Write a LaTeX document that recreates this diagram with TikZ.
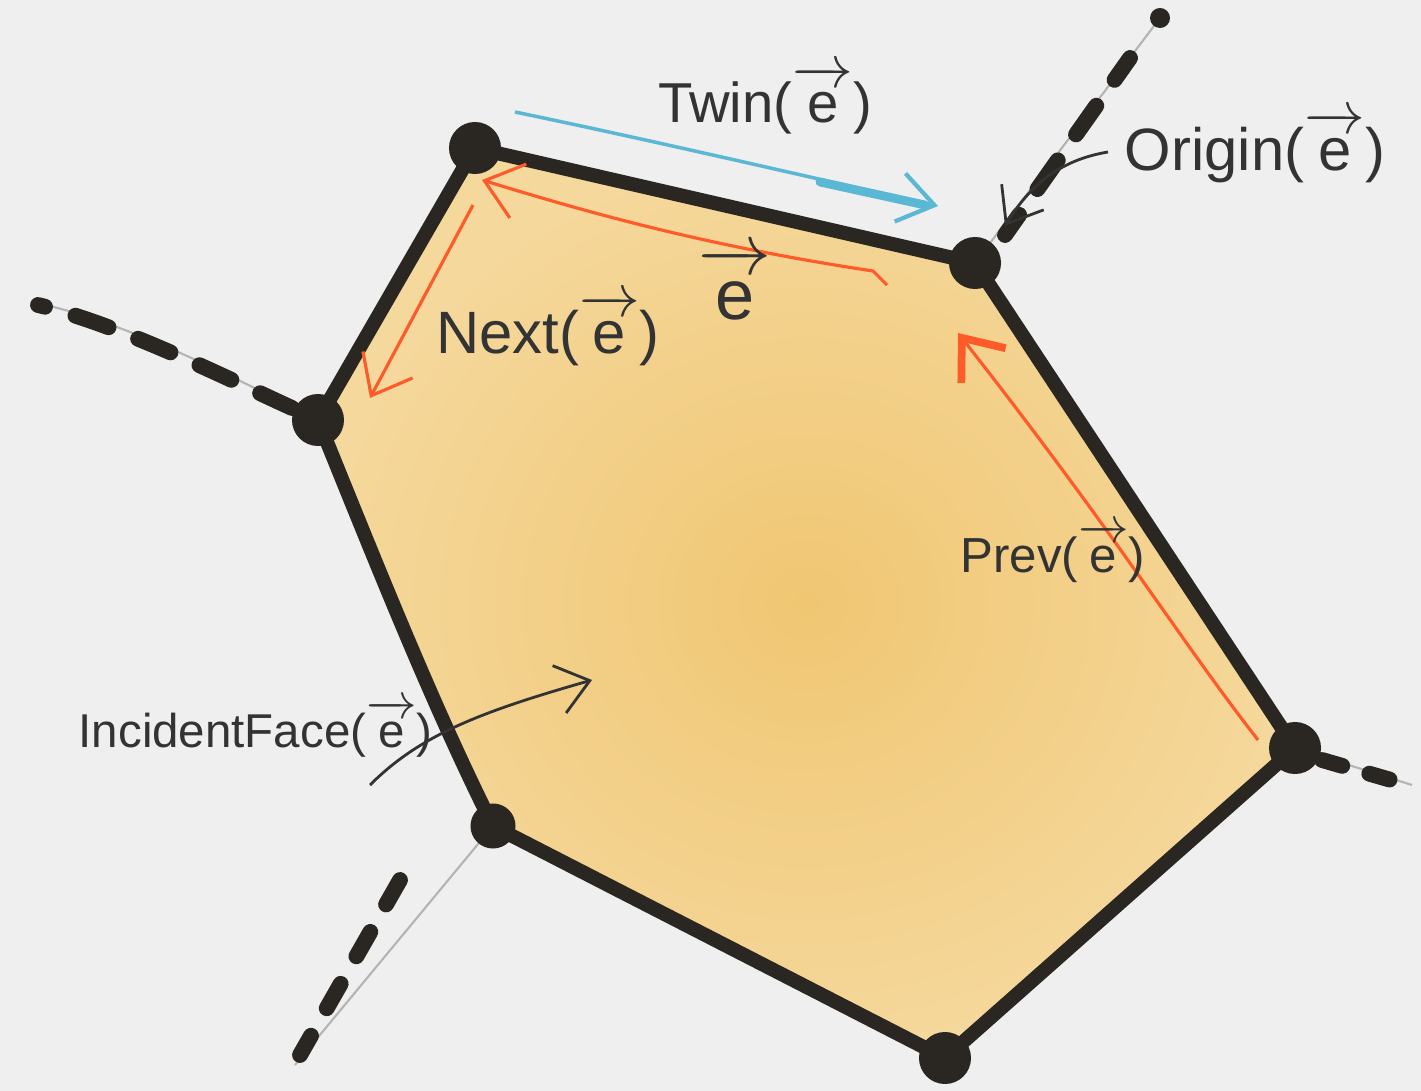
\documentclass[tikz,border=0pt]{standalone}
\usepackage{fontspec}
\setmainfont{Liberation Sans}
\usetikzlibrary{arrows.meta}
\definecolor{bgc}{HTML}{EFEFEF}
\definecolor{facedark}{HTML}{F0C672}
\definecolor{facelight}{HTML}{F5D89C}
\definecolor{ink}{HTML}{2A2722}
\definecolor{orng}{HTML}{FF5A2A}
\definecolor{blu}{HTML}{5BB8D4}
\definecolor{guidegray}{HTML}{B4B4B4}
\definecolor{txt}{HTML}{333333}
\newcommand\vecE{$\overrightarrow{\hbox{e}\rule{0pt}{1.3ex}}$}
\tikzset{
  edgeline/.style={draw=ink, line width=4pt, line join=round, line cap=round},
  vert/.style={circle, fill=ink, inner sep=0pt, minimum size=0.52cm},
  guide/.style={draw=guidegray, line width=0.6pt},
  dashline/.style={draw=ink, line width=4.5pt, line cap=round, dash pattern=on 10pt off 9pt},
  oarr/.style={draw=orng, line width=0.9pt, -{Straight Barb[length=10pt,width=16pt,line width=0.9pt]}},
  barr/.style={draw=blu, line width=1pt, -{Straight Barb[length=10pt,width=14pt,line width=1.2pt]}},
  karr/.style={draw=txt, line width=0.8pt, -{Straight Barb[length=9pt,width=14pt,line width=0.8pt]}},
  lbl/.style={text=txt, inner sep=0pt}
}
\begin{document}
\begin{tikzpicture}[x=0.01cm,y=-0.01cm]
\fill[bgc] (0,0) rectangle (1421,1091);
\useasboundingbox (0,0) rectangle (1421,1091);

% polygon corners
\coordinate (A) at (475,148);
\coordinate (B) at (975,263);
\coordinate (C) at (1295,748);
\coordinate (D) at (945,1058);
\coordinate (E) at (493,826);
\coordinate (F) at (318,420);

% outer ends of the dashed edges
\coordinate (Bo) at (1160,18);
\coordinate (Fo) at (32,302);
\coordinate (Co) at (1412,785);
\coordinate (Eo) at (295,1065);

% face
\path[inner color=facedark, outer color=facelight]
  (A) -- (B) -- (C) -- (D) -- (E) .. controls (430,700) and (375,560) .. (F) -- cycle;

% guide lines for dashed edges
\draw[guide] (B) -- (Bo);
\draw[guide] (F) .. controls (220,370) and (120,320) .. (Fo);
\draw[guide] (C) -- (Co);
\draw[guide] (E) -- (Eo);

% dashed edges
\draw[dashline, dash phase=3pt] (1005,235) -- (1130,58);
\draw[dashline] (292,408) .. controls (220,375) and (120,325) .. (38,305);
\draw[dashline, dash pattern=on 6pt off 8pt] (1322,760) -- (1405,784);
\draw[dashline, dash pattern=on 8pt off 9pt] (400,880) -- (300,1055);

% polygon outline
\draw[edgeline] (A) -- (B) -- (C) -- (D) -- (E) .. controls (430,700) and (375,560) .. (F) -- cycle;

% vertices
\node[vert] (vA) at (A) {};
\node[vert] (vB) at (B) {};
\node[vert] (vC) at (C) {};
\node[vert] (vD) at (D) {};
\node[vert, minimum size=0.45cm] (vE) at (E) {};
\node[vert] (vF) at (F) {};
\node[vert, minimum size=0.2cm] (vBo) at (Bo) {};

% half-edge arrows
\coordinate (e1) at (887,285);
\coordinate (e2) at (873,271);
\coordinate (e3) at (482,180);
\draw[oarr] (e1) -- (e2) .. controls (700,245) and (580,210) .. (e3);

\coordinate (n1) at (473,205);
\coordinate (n2) at (370,398);
\draw[oarr] (n1) -- (n2);

\coordinate (p1) at (1258,740);
\coordinate (p2) at (958,333);
\draw[draw=orng, line width=0.9pt, -{Straight Barb[length=10pt,width=16pt,line width=2.2pt]}]
  (p1) .. controls (1180,640) and (1120,540) .. (p2);

\coordinate (t1) at (515,112);
\coordinate (t2) at (938,206);
\draw[barr] (t1) .. controls (650,140) and (800,175) .. (t2);
\draw[draw=blu, line width=2.5pt, line cap=round] (820,182) -- (925,205);

\coordinate (o1) at (1108,152);
\coordinate (o2) at (1005,226);
\draw[karr] (o1) .. controls (1060,160) and (1030,185) .. (o2);

\coordinate (i1) at (370,785);
\coordinate (i2) at (592,680);
\draw[karr] (i1) .. controls (420,735) and (480,712) .. (i2);

% labels
\node[lbl, font=\fontsize{16}{19}\selectfont] (lTwin) at (765,100) {Twin(\vecE)};
\node[lbl, font=\fontsize{17}{20}\selectfont] (lOrig) at (1255,147) {Origin(\vecE)};
\node[lbl, font=\fontsize{20}{24}\selectfont] (lE) at (735,284) {\vecE};
\node[lbl, font=\fontsize{17}{20}\selectfont] (lNext) at (548,330) {Next(\vecE)};
\node[lbl, font=\fontsize{14}{16}\selectfont] (lPrev) at (1053,553) {Prev(\vecE)};
\node[lbl, font=\fontsize{13.5}{16}\selectfont, anchor=west] (lFace) at (78,729) {IncidentFace(\vecE)};
\end{tikzpicture}
\end{document}
